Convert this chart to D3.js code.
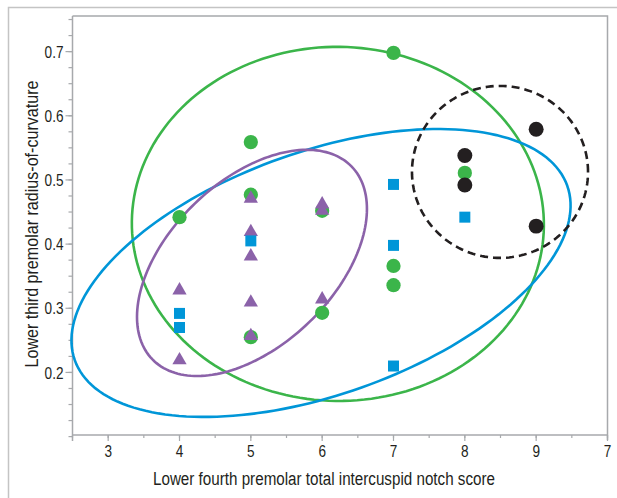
<!DOCTYPE html>
<html>
<head>
<meta charset="utf-8">
<script src="https://cdn.jsdelivr.net/npm/d3@7"></script>
<style>
  body { margin: 0; background: #fff; }
  text { font-family: "Liberation Sans Narrow", "Arial Narrow", "Liberation Sans", sans-serif; fill: #231f20; }
</style>
</head>
<body>
<svg id="chart"></svg>
<script>
const width = 617, height = 498

// tick values and labels
const xTicks = [3, 4, 5, 6, 7, 8, 9, 10]
const xTickLabels = ["3", "4", "5", "6", "7", "8", "9", "7"]
const yTicks = [0.2, 0.3, 0.4, 0.5, 0.6, 0.7]

// points [notch score, radius-of-curvature]
const greenPts = [[4, 0.442], [5, 0.559], [5, 0.477], [5, 0.255], [6, 0.452], [6, 0.293],
                  [7, 0.698], [7, 0.366], [7, 0.336], [8, 0.511]]
const purplePts = [[4, 0.328], [4, 0.219], [5, 0.471], [5, 0.419], [5, 0.381], [5, 0.309],
                   [5, 0.257], [6, 0.462], [6, 0.452], [6, 0.314]]
const bluePts = [[4, 0.292], [4, 0.270], [5, 0.405], [7, 0.493], [7, 0.398], [7, 0.210], [8, 0.442]]
const blackPts = [[8, 0.538], [8, 0.492], [9, 0.579], [9, 0.428]]

// ellipses: centre + two semi-axis vectors, in data units
const greenEll = {c: [6.22, 0.4315], u: [2.888, -0.004], v: [0.03, 0.2759]}
const blueEll = {c: [5.984, 0.355], u: [3.452, 0.1359], v: [0.569, -0.1785]}
const purpleEll = {c: [5.016, 0.3707], u: [1.398, 0.1501], v: [0.802, -0.0924]}
const blackEll = {c: [8.493, 0.5125], u: [1.234, 0], v: [0, 0.134]}

const colors = {green: "#3bb54a", blue: "#0096d8", purple: "#8b62a9", black: "#231f20"}

const x = d3.scaleLinear().domain([2.5, 10]).range([72.5, 607.5])
const y = d3.scaleLinear().domain([0.1025, 0.7555]).range([435, 16])

const svg = d3.select("#chart").attr("width", width).attr("height", height)

// outer frame
svg.append("path")
    .attr("d", "M8.5,498 V7.5 H617")
    .style("fill", "none").style("stroke", "#c4c4c4").style("stroke-width", 1.5)

// plot frame top + right
svg.append("path")
    .attr("d", `M${x(2.5)},${y.range()[1]} H${x(10)} V${y.range()[0] + 5}`)
    .style("fill", "none").style("stroke", "#a7a9ac").style("stroke-width", 1.5)

// y axis
const yMinor = d3.range(0.1, 0.7556, 0.025)
const yAx = svg.append("g").attr("transform", `translate(${x(2.5)},0)`)
yAx.append("line").attr("y1", y.range()[1]).attr("y2", y.range()[0] + 6)
    .style("stroke", "#a7a9ac").style("stroke-width", 1.5)
yAx.selectAll(".minor").data(yMinor).enter().append("line")
    .attr("x1", -4).attr("x2", 0)
    .attr("y1", d => y(d)).attr("y2", d => y(d))
    .style("stroke", "#a7a9ac").style("stroke-width", 1.2)
yAx.selectAll(".major").data(yTicks).enter().append("line")
    .attr("x1", -7).attr("x2", 0)
    .attr("y1", d => y(d)).attr("y2", d => y(d))
    .style("stroke", "#a7a9ac").style("stroke-width", 1.2)
// condensed look: squeeze the labels horizontally
yAx.selectAll("text").data(yTicks).enter().append("text")
    .attr("transform", d => `translate(-9,${y(d)}) scale(0.8,1)`)
    .attr("dy", "0.36em")
    .style("text-anchor", "end").style("font-size", "17px")
    .text(d => d.toFixed(1))

// x axis
const xMinor = d3.range(2.5, 10.01, 0.5)
const xAx = svg.append("g").attr("transform", `translate(0,${y.range()[0]})`)
xAx.append("line").attr("x1", x(2.5)).attr("x2", x(10))
    .style("stroke", "#a7a9ac").style("stroke-width", 1.5)
xAx.selectAll(".minor").data(xMinor).enter().append("line")
    .attr("x1", d => x(d)).attr("x2", d => x(d)).attr("y1", 0).attr("y2", 3)
    .style("stroke", "#a7a9ac").style("stroke-width", 1.2)
xAx.selectAll(".major").data(xTicks).enter().append("line")
    .attr("x1", d => x(d)).attr("x2", d => x(d)).attr("y1", 0).attr("y2", 6)
    .style("stroke", "#a7a9ac").style("stroke-width", 1.2)
xAx.selectAll("text").data(xTicks).enter().append("text")
    .attr("transform", d => `translate(${x(d)},22) scale(0.8,1)`)
    .style("text-anchor", "middle").style("font-size", "17px")
    .text((d, i) => xTickLabels[i])

// axis titles
svg.append("text")
    .attr("x", 324).attr("y", 485)
    .attr("textLength", 342).attr("lengthAdjust", "spacingAndGlyphs")
    .style("text-anchor", "middle").style("font-size", "18px")
    .text("Lower fourth premolar total intercuspid notch score")
svg.append("text")
    .attr("transform", "translate(38,224) rotate(-90)")
    .attr("textLength", 287).attr("lengthAdjust", "spacingAndGlyphs")
    .style("text-anchor", "middle").style("font-size", "18px")
    .text("Lower third premolar radius-of-curvature")

// ellipses
const line = d3.line().x(d => x(d[0])).y(d => y(d[1])).curve(d3.curveLinearClosed)
function ellPts(e) {
    return d3.range(0, 360, 2).map(a => {
        const t = a * Math.PI / 180
        return [e.c[0] + e.u[0] * Math.cos(t) + e.v[0] * Math.sin(t),
                e.c[1] + e.u[1] * Math.cos(t) + e.v[1] * Math.sin(t)]
    })
}
const ells = [[greenEll, colors.green, null], [blueEll, colors.blue, null],
              [purpleEll, colors.purple, null], [blackEll, colors.black, "8,5"]]
ells.forEach(([e, col, dash]) => {
    svg.append("path")
        .attr("d", line(ellPts(e)))
        .style("fill", "none").style("stroke", col).style("stroke-width", 2.6)
        .style("stroke-dasharray", dash)
})

// markers
function marks(data, type, size, col) {
    svg.append("g").selectAll("path").data(data).enter().append("path")
        .attr("d", d3.symbol().type(type).size(size))
        .attr("transform", d => `translate(${x(d[0])},${y(d[1])})`)
        .style("fill", col)
}
marks(greenPts, d3.symbolCircle, 160, colors.green)
marks(purplePts, d3.symbolTriangle, 88, colors.purple)
marks(bluePts, d3.symbolSquare, 121, colors.blue)
marks(blackPts, d3.symbolCircle, 175, colors.black)
</script>
</body>
</html>
